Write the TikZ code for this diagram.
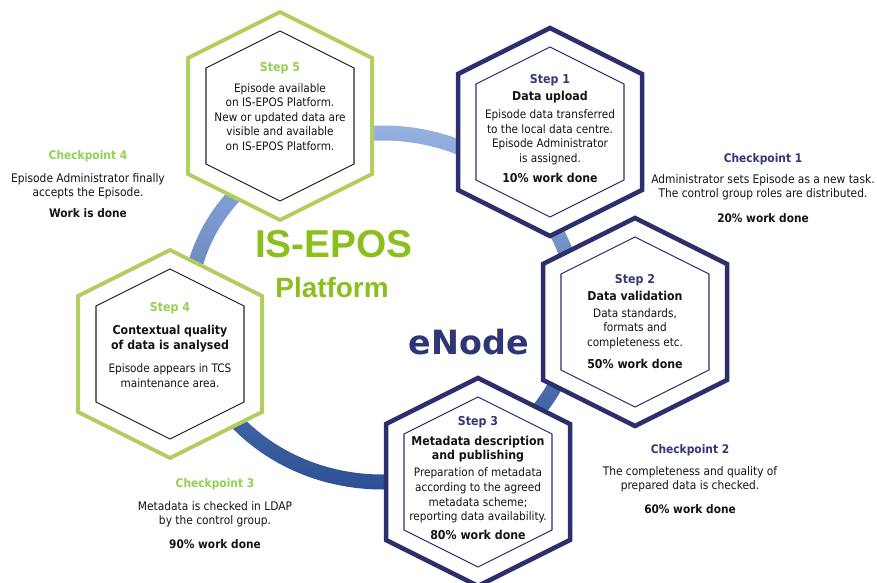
\documentclass[tikz,border=0pt]{standalone}
\usepackage{fontspec}
\setmainfont{DejaVu Sans Condensed}
\newfontfamily\logofont{Liberation Sans}
\newfontfamily\enodefont{DejaVu Sans}
\definecolor{navy}{RGB}{44,47,108}
\definecolor{navytext}{RGB}{50,56,120}
\definecolor{lime}{RGB}{176,207,96}
\definecolor{limetext}{RGB}{146,208,80}
\definecolor{logogreen}{RGB}{140,190,30}
\definecolor{enodeblue}{RGB}{46,54,116}
\definecolor{ringtop}{RGB}{150,177,224}
\definecolor{ringbot}{RGB}{44,80,148}
\definecolor{txt}{RGB}{20,20,20}
\newcommand\hexshape[6]{%
  \draw[#1] ({#2},{#3-#5}) -- ({#2+#4},{#3-#6}) -- ({#2+#4},{#3+#6}) --
    ({#2},{#3+#5}) -- ({#2-#4},{#3+#6}) -- ({#2-#4},{#3-#6}) -- cycle;}
\newcommand\hexbold[1]{{\fontsize{12.3}{14.5}\selectfont\bfseries #1}}
\newcommand\hexttl[2]{{\color{#1}\fontsize{12.3}{14.5}\selectfont\bfseries #2}}
\newcommand\cpbold[1]{{\fontsize{11.8}{14}\selectfont\bfseries #1}}
\newcommand\cpttl[2]{{\color{#1}\fontsize{11.9}{14}\selectfont\bfseries #2}}
\begin{document}
\begin{tikzpicture}[x=1bp,y=-1bp,
  outernavy/.style={draw=navy,line width=4.5bp,fill=white,line join=miter},
  innernavy/.style={draw=navy,line width=1.1bp},
  outerlime/.style={draw=lime,line width=4bp,fill=white,line join=miter},
  innerblack/.style={draw=black!85,line width=1.1bp},
  hextext/.style={align=center,inner sep=0pt,text=txt,font=\fontsize{11.7}{14.6}\selectfont},
  cptext/.style={align=center,inner sep=0pt,text=txt,font=\fontsize{11.9}{14}\selectfont}]
\useasboundingbox (0,0) rectangle (877,583);
\fill[white] (0,0) rectangle (877,583);
% ring
\shade[top color=ringtop,bottom color=ringbot,even odd rule]
  (382.5,307.5) ellipse [x radius=200.5,y radius=182]
  (382.5,307.5) ellipse [x radius=185.5,y radius=167];
% hexagons
\hexshape{outerlime}{280}{116}{92}{104}{58}
\hexshape{innerblack}{280}{116}{74}{85}{48}
\hexshape{outernavy}{550}{132}{92}{104}{58}
\hexshape{innernavy}{550}{132}{74}{85}{48}
\hexshape{outernavy}{635}{322}{92}{104}{58}
\hexshape{innernavy}{635}{322}{74}{85}{48}
\hexshape{outernavy}{478}{482}{92}{104}{58}
\hexshape{innernavy}{478}{482}{74}{85}{48}
\hexshape{outerlime}{170}{354}{92}{104}{58}
\hexshape{innerblack}{170}{354}{74}{85}{48}
% hexagon texts
\node[hextext] (s5) at (280,106.5) {\hexttl{limetext}{Step 5}\\[6pt]
  Episode available\\on IS-EPOS Platform.\\New or updated data are\\visible and available\\on IS-EPOS Platform.};
\node[hextext] (s1) at (550,128.5) {\hexttl{navytext}{Step 1}\\[2.5pt]
  \hexbold{Data upload}\\[3.5pt]Episode data transferred\\to the local data centre.\\Episode Administrator\\is assigned.\\[5.5pt]\hexbold{10\% work done}};
\node[hextext] (s2) at (635,321.5) {\hexttl{navytext}{Step 2}\\[2.5pt]
  \hexbold{Data validation}\\[2.5pt]Data standards,\\formats and\\completeness etc.\\[8pt]\hexbold{50\% work done}};
\node[hextext] (s3) at (478,478) {\hexttl{navytext}{Step 3}\\[5.5pt]
  \hexbold{Metadata description}\\\hexbold{and publishing}\\[2.5pt]Preparation of metadata\\according to the agreed\\metadata scheme;\\reporting data availability.\\[4.5pt]\hexbold{80\% work done}};
\node[hextext] (s4) at (170,345) {\hexttl{limetext}{Step 4}\\[8.5pt]
  \hexbold{Contextual quality}\\\hexbold{of data is analysed}\\[8.5pt]Episode appears in TCS\\maintenance area.};
% checkpoints
\node[cptext] (c4) at (88,184) {\cpttl{limetext}{Checkpoint 4}\\[9pt]
  Episode Administrator finally\\accepts the Episode.\\[7pt]\cpbold{Work is done}};
\node[cptext] (c1) at (763,188) {\cpttl{navytext}{Checkpoint 1}\\[8pt]
  Administrator sets Episode as a new task.\\The control group roles are distributed.\\[11pt]\cpbold{20\% work done}};
\node[cptext] (c2) at (690,479) {\cpttl{navytext}{Checkpoint 2}\\[9pt]
  The completeness and quality of\\prepared data is checked.\\[10pt]\cpbold{60\% work done}};
\node[cptext] (c3) at (215,513.5) {\cpttl{limetext}{Checkpoint 3}\\[10pt]
  Metadata is checked in LDAP\\by the control group.\\[10pt]\cpbold{90\% work done}};
% central titles
\node[inner sep=0pt,text=logogreen,font=\logofont\bfseries\fontsize{39}{40}\selectfont] (isepos) at (334,244) {IS-EPOS};
\node[inner sep=0pt,text=logogreen,font=\logofont\bfseries\fontsize{28}{30}\selectfont] (platform) at (332,288) {Platform};
\node[inner sep=0pt,text=enodeblue,font=\enodefont\bfseries\fontsize{33.5}{35}\selectfont] (enode) at (469,342) {eNode};
\end{tikzpicture}
\end{document}
